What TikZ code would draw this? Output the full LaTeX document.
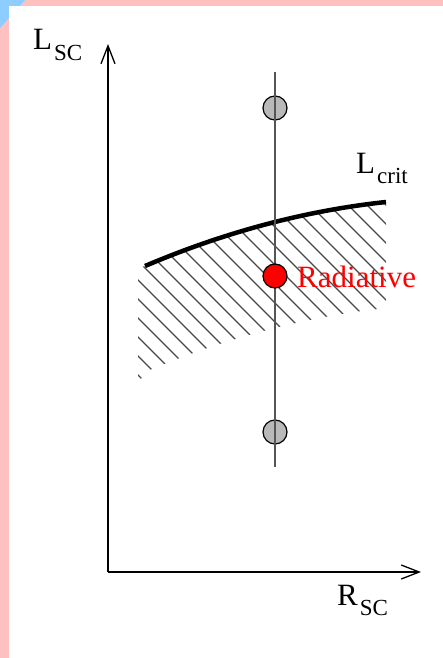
\documentclass[tikz,border=0pt]{standalone}
\usepackage{fontspec}
\setmainfont{Liberation Serif}
\usepackage{tikz}
\usetikzlibrary{arrows.meta}
\usepackage{xcolor}
\definecolor{edgepink}{HTML}{FFC0C0}
\definecolor{edgeblue}{HTML}{8ECDFF}
\definecolor{ballgray}{HTML}{B9B9B9}
\definecolor{linegray}{HTML}{555555}
\newcommand{\biglabel}[2]{\fontsize{31}{31}\selectfont #1\kern2pt\raisebox{-10.5pt}{\fontsize{23}{23}\selectfont #2}}
\tikzset{
  axis/.style={line width=1.3pt, draw=black, -{Straight Barb[length=18pt,width=14pt]}},
  crit/.style={line width=4.5pt, draw=black},
  hatchline/.style={line width=1.2pt, draw=black!72},
  ball/.style={circle, draw=black, line width=1.2pt, minimum size=24pt, inner sep=0pt},
  label/.style={inner sep=0pt, anchor=base west},
}

\begin{document}
\begin{tikzpicture}[x=1pt, y=-1pt]
  % Rand und Hintergrund
  \fill[edgepink] (0,0) rectangle (443,658);
  \fill[edgeblue] (0,0) -- (25,0) -- (0,28) -- cycle;
  \fill[white] (9,6) rectangle (443,658);
  \useasboundingbox (0,0) rectangle (443,658);
  % Achsen
  \coordinate (O) at (108,572);
  \coordinate (ytip) at (108,44);
  \coordinate (xtip) at (421,572);
  \draw[axis] (O) -- (ytip);
  \draw[axis] (O) -- (xtip);
  \node[label] (ylab) at (33,50) {\biglabel{L}{SC}};
  \node[label] (xlab) at (337,605) {\biglabel{R}{SC}};
  % schraffierter Bereich unter L_crit
  \begin{scope}
    \clip (138,268) -- (145,266) .. controls (225.3,231.9) and (305.7,210.6) .. (386,202)
      -- (386,308) .. controls (305.7,316.6) and (225.3,337.9) .. (145,372)
      -- (138,384) -- cycle;
    \foreach \k in {-6,...,17}{
      \pgfmathsetmacro\c{-142+19*\k}
      \draw[hatchline] (\c+150,150) -- (\c+450,450);
    }
  \end{scope}
  % Grenzkurve
  \draw[crit] (145,266) .. controls (225.3,231.9) and (305.7,210.6) .. (386,202);
  \node[label] (critlab) at (356,173) {\biglabel{L}{crit}};
  % Punkte auf der Linie
  \node[ball, fill=ballgray] (upper) at (275,108) {};
  \node[ball, fill=ballgray] (lower) at (275,432) {};
  \coordinate (vtop) at (275,72);
  \coordinate (vbot) at (275,467);
  \draw[line width=1.5pt, draw=linegray] (vtop) -- (vbot);
  \node[ball, fill=red] (rad) at (275,276) {};
  \node[label, text=red] (radlab) at (297,287) {\fontsize{31}{31}\selectfont Radiative};
\end{tikzpicture}
\end{document}
